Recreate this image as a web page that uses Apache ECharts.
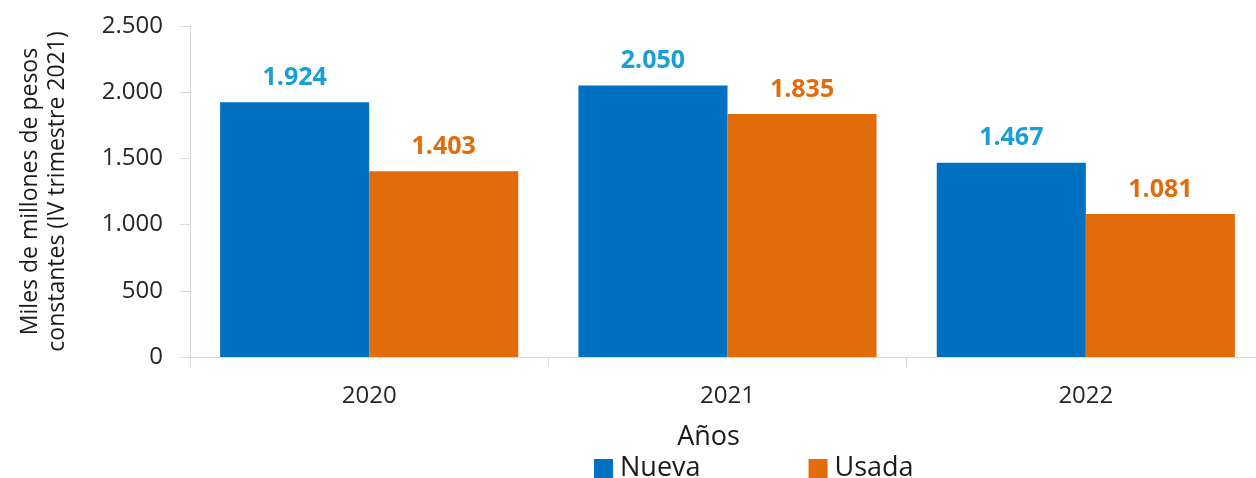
<!DOCTYPE html>
<html>
<head>
<meta charset="utf-8">
<script src="https://cdn.jsdelivr.net/npm/echarts@6/dist/echarts.min.js"></script>
<style>
  html, body { margin: 0; padding: 0; background: #fff; }
  #chart { width: 1256px; height: 478px; }
</style>
</head>
<body>
<div id="chart"></div>
<script>
const years = ["2020", "2021", "2022"];
const nueva = [1924, 2050, 1467];
const usada = [1403, 1835, 1081];
const yTicks = { min: 0, max: 2500, interval: 500 };

const FONT = "'Open Sans', 'Noto Sans', sans-serif";

function fmt(v) {
  return String(v).replace(/\B(?=(\d{3})+(?!\d))/g, ".");
}

const chart = echarts.init(document.getElementById("chart"));

chart.setOption({
  animation: false,
  textStyle: { fontFamily: FONT },
  grid: {
    left: 190, width: 1075, top: 26, bottom: 121,
    containLabel: false, outerBoundsMode: "none"
  },
  legend: {
    left: 589,
    top: 450,
    itemWidth: 19,
    itemHeight: 19,
    itemGap: 108,
    icon: "rect",
    textStyle: { fontSize: 27, color: "#1a1a1a", fontFamily: FONT, padding: [0, 0, 0, 2] },
    data: ["Nueva", "Usada"]
  },
  xAxis: {
    type: "category",
    data: years,
    name: "Años",
    nameLocation: "middle",
    nameGap: 67,
    nameTextStyle: { fontSize: 27, color: "#1a1a1a", padding: [0, 38, 0, 0] },
    axisLine: { lineStyle: { color: "#d9d9d9", width: 1 } },
    axisTick: { show: true, length: 10, lineStyle: { color: "#d9d9d9" } },
    axisLabel: { fontSize: 24, color: "#262626", margin: 27 }
  },
  yAxis: {
    type: "value",
    min: yTicks.min,
    max: yTicks.max,
    interval: yTicks.interval,
    name: "Miles de millones de pesos\nconstantes (IV trimestre 2021)",
    nameLocation: "middle",
    nameGap: 119,
    nameTextStyle: { fontSize: 23, color: "#1a1a1a", lineHeight: 27 },
    axisLine: { show: true, lineStyle: { color: "#d9d9d9", width: 1 } },
    axisTick: { show: true, length: 10, lineStyle: { color: "#d9d9d9" } },
    splitLine: { show: false },
    axisLabel: { fontSize: 24, color: "#262626", margin: 27, formatter: fmt }
  },
  series: [
    {
      name: "Nueva",
      type: "bar",
      data: nueva,
      barGap: "0%",
      barCategoryGap: "16.8%",
      itemStyle: { color: "#0070c0" },
      label: {
        show: true,
        position: "top",
        distance: 12,
        fontSize: 25,
        fontWeight: "bold",
        color: "#1a9fd4",
        formatter: p => fmt(p.value)
      }
    },
    {
      name: "Usada",
      type: "bar",
      data: usada,
      barGap: "0%",
      barCategoryGap: "16.8%",
      itemStyle: { color: "#e36c0a" },
      label: {
        show: true,
        position: "top",
        distance: 12,
        fontSize: 25,
        fontWeight: "bold",
        color: "#e36c0a",
        formatter: p => fmt(p.value)
      }
    }
  ]
});
</script>
</body>
</html>
